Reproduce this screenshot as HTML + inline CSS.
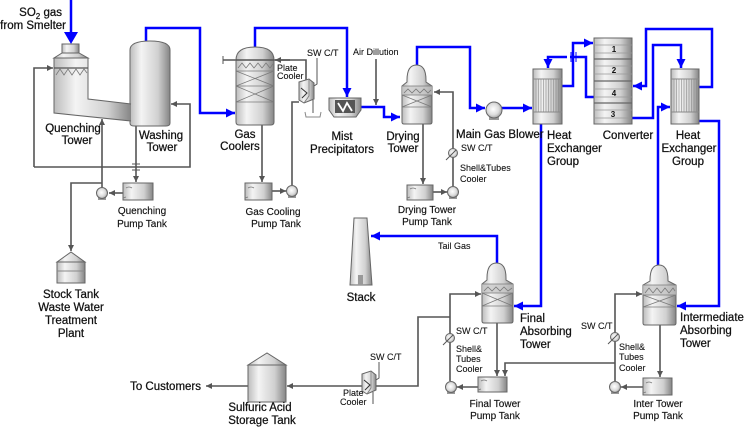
<!DOCTYPE html>
<html><head><meta charset="utf-8"><style>
html,body{margin:0;padding:0;background:#fff;}
svg{display:block;}
text{font-family:"Liberation Sans",Arial,sans-serif;fill:#111;}
.L{font-size:11.5px;stroke:#111;stroke-width:0.25;}
.S{font-size:10px;stroke:#111;stroke-width:0.15;}
.T{font-size:9px;stroke:#111;stroke-width:0.1;}
.D{font-size:8px;font-weight:bold;}
.g{fill:none;stroke:#555;stroke-width:1.6;}
.b{fill:none;stroke:#0000ff;stroke-width:2.5;}
.eq{stroke:#666;stroke-width:1;}
.in{fill:none;stroke:#7a7a7a;stroke-width:0.8;}
.tb{fill:none;stroke:#8a8a8a;stroke-width:0.6;}
</style></head><body>
<svg width="748" height="431" viewBox="0 0 748 431" xmlns="http://www.w3.org/2000/svg">
<defs>
<linearGradient id="m" x1="0" x2="1" y1="0" y2="0">
<stop offset="0" stop-color="#bcbcbc"/><stop offset="0.28" stop-color="#f4f4f4"/><stop offset="0.7" stop-color="#d0d0d0"/><stop offset="1" stop-color="#858585"/>
</linearGradient>
<radialGradient id="rp" cx="0.45" cy="0.45" r="0.6">
<stop offset="0" stop-color="#ffffff"/><stop offset="0.6" stop-color="#dcdcdc"/><stop offset="1" stop-color="#9a9a9a"/>
</radialGradient>
<marker id="ab" viewBox="0 0 10 10" refX="10" refY="5" markerWidth="9" markerHeight="9" markerUnits="userSpaceOnUse" orient="auto"><path d="M0,0 L10,5 L0,10 z" fill="#0000ff"/></marker>
<marker id="ag" viewBox="0 0 10 10" refX="10" refY="5" markerWidth="6" markerHeight="6" markerUnits="userSpaceOnUse" orient="auto"><path d="M0,0 L10,5 L0,10 z" fill="#555"/></marker>
</defs>

<!-- ============ GREY PROCESS LINES ============ -->
<g class="g">
<path d="M34,167 L34,68 L53,68" marker-end="url(#ag)"/>
<path d="M34,167 L190,167 L190,104 L171,104" marker-end="url(#ag)"/>
<path d="M136,124 L136,182" marker-end="url(#ag)"/>
<path d="M102,188 L102,119" marker-end="url(#ag)"/>
<path d="M102,183 L71,183 L71,251" marker-end="url(#ag)"/>
<path d="M123,193 L109,193" marker-end="url(#ag)"/>

<path d="M223,60 L306,60 L306,82"/>
<path d="M290,60 L275,60" marker-end="url(#ag)"/>
<path d="M262,125 L262,182" marker-end="url(#ag)"/>
<path d="M272,191 L286,191" marker-end="url(#ag)"/>
<path d="M292,185 L292,102 L299,102"/>

<path d="M376,59 L376,105" marker-end="url(#ag)"/>

<path d="M453,186 L453,92 L434,92" marker-end="url(#ag)"/>
<path d="M423,124 L423,184" marker-end="url(#ag)"/>
<path d="M433,192 L447,192" marker-end="url(#ag)"/>

<path d="M450,381 L450,294 L481,294" marker-end="url(#ag)"/>
<path d="M450,317 L418,317 L418,386 L287,386" marker-end="url(#ag)"/>
<path d="M497,323 L497,376" marker-end="url(#ag)"/>
<path d="M615,363 L505,363 L505,376" marker-end="url(#ag)"/>
<path d="M478,387 L457,387" marker-end="url(#ag)"/>

<path d="M615,381 L615,294 L642,294" marker-end="url(#ag)"/>
<path d="M660,325 L660,377" marker-end="url(#ag)"/>
<path d="M643,387 L621,387" marker-end="url(#ag)"/>

<path d="M248,386 L206,386" marker-end="url(#ag)"/>
</g>
<g stroke="#555" stroke-width="1" fill="none">
<line x1="223" y1="56" x2="223" y2="64"/>
<line x1="132" y1="164" x2="140" y2="164"/>
<line x1="132" y1="170" x2="140" y2="170"/>
<path d="M317,58 L317,84 L314,86"/>
<path d="M313,100 L313,113"/>
<path d="M305,112 L306,117 L320,117 L321,112" stroke="#888"/>
<path d="M379,362 L379,378 L376,380"/>
<line x1="373" y1="392" x2="373" y2="404"/>
<line x1="453" y1="153" x2="446" y2="160"/>
<line x1="450" y1="338" x2="443" y2="345"/>
<line x1="615" y1="337" x2="608" y2="344"/>
</g>

<!-- ============ BLUE GAS LINES ============ -->
<g class="b">
<path d="M71,0 L71,34"/>
<path d="M146,41 L146,28 L200,28 L200,113 L235,113" marker-end="url(#ab)"/>
<path d="M255,47 L255,28 L347,28 L347,97" marker-end="url(#ab)"/>
<path d="M361,107 L384,107 L384,117 L400,117" marker-end="url(#ab)"/>
<path d="M417,65 L417,47 L470,47 L470,108 L485,108" marker-end="url(#ab)"/>
<path d="M502,108 L532,108" marker-end="url(#ab)"/>
<path d="M594,97 L586,97 L586,57 L548,57 L548,68" marker-end="url(#ab)"/>
<path d="M562,86 L573,86 L573,43 L593,43" marker-end="url(#ab)"/>
<path d="M541,124 L541,306 L514,306" marker-end="url(#ab)"/>
<path d="M632,118 L653,118 L653,45 L681,45 L681,68" marker-end="url(#ab)"/>
<path d="M699,87 L712,87 L712,29 L646,29 L646,86 L633,86" marker-end="url(#ab)"/>
<path d="M658,265 L658,107 L670,107" marker-end="url(#ab)"/>
<path d="M699,121 L719,121 L719,306 L677,306" marker-end="url(#ab)"/>
<path d="M497,263 L497,236 L371,236" marker-end="url(#ab)"/>
</g>
<polygon points="64,32 78,32 71,44" fill="#0000ff"/>
<rect x="567" y="54" width="3" height="6" fill="#fff"/>
<g stroke="#0000ff" stroke-width="1"><line x1="571" y1="52" x2="571" y2="62"/><line x1="576" y1="52" x2="576" y2="62"/></g>

<!-- ============ QUENCH / WASHING ============ -->
<path d="M130,50 Q130,41 150,41 Q170,41 170,50 L170,123 Q170,126 166,126 L134,126 Q130,126 130,123 Z" fill="url(#m)" class="eq"/>
<rect x="62" y="44" width="17" height="9" fill="url(#m)" class="eq"/>
<path d="M62,53 L79,53 L88,58 L54,58 Z" fill="url(#m)" class="eq"/>
<path d="M54,58 L88,58 L88,99 L131,104 L131,121 L54,113 Z" fill="url(#m)"/>
<path d="M131,104 L88,99 L88,58 L54,58 L54,113 L131,121" fill="none" class="eq"/>
<line x1="54" y1="68" x2="88" y2="68" stroke="#555" stroke-width="1.2"/>
<polyline points="56,75 60,69 64,75 68,69 72,75 76,69 80,75 84,69 87,73" class="in"/>

<!-- ============ GAS COOLERS ============ -->
<path d="M236,60 Q236,47 255,47 Q274,47 274,60 L274,122 Q274,125 271,125 L239,125 Q236,125 236,122 Z" fill="url(#m)" class="eq"/>
<polyline points="238,68 242,63 246,68 250,63 254,68 258,63 262,68 266,63 270,68 273,64" class="in"/>
<g class="in">
<line x1="236" y1="71" x2="274" y2="71"/><line x1="236" y1="86" x2="274" y2="86"/><line x1="236" y1="102" x2="274" y2="102"/>
<line x1="236" y1="71" x2="274" y2="86"/><line x1="236" y1="86" x2="274" y2="71"/>
<line x1="236" y1="86" x2="274" y2="102"/><line x1="236" y1="102" x2="274" y2="86"/>
</g>
<line x1="236" y1="60" x2="274" y2="60" stroke="#555" stroke-width="1.4"/>

<!-- plate cooler top -->
<path d="M299,82 L309,79 L314,83 L314,99 L304,103 L299,100 Z" fill="url(#m)" class="eq"/>
<path d="M309,79 L309,96 L304,103" fill="none" stroke="#777" stroke-width="0.8"/>
<polyline points="301,88 307,93 302,98" fill="none" stroke="#333" stroke-width="1"/>

<!-- ============ MIST PRECIPITATOR ============ -->
<path d="M329,98 L361,98 L361,110 L356,117 L334,117 L329,110 Z" fill="url(#m)" class="eq"/>
<rect x="335" y="100" width="20" height="13" fill="#555"/>
<polyline points="338,103 343,111 347,103 352,111" fill="none" stroke="#fff" stroke-width="1.8"/>

<!-- ============ DRYING TOWER ============ -->
<path d="M407,80 Q407,65 416.5,65 Q426,65 426,80 L426,82 L432,86 L432,122 Q432,124 430,124 L404,124 Q402,124 402,122 L402,86 L407,82 Z" fill="url(#m)" class="eq"/>
<rect x="402" y="86" width="30" height="9" fill="#c4c4c4" opacity="0.7"/>
<polyline points="404,93 408,89 412,93 416,89 420,93 424,89 428,93 431,90" class="in"/>
<g class="in"><line x1="402" y1="95" x2="432" y2="95"/><line x1="402" y1="107" x2="432" y2="107"/><line x1="402" y1="95" x2="432" y2="107"/><line x1="402" y1="107" x2="432" y2="95"/><line x1="402" y1="86" x2="432" y2="86"/></g>

<!-- ============ MAIN GAS BLOWER ============ -->
<rect x="489" y="115" width="10" height="5" fill="#999"/>
<circle cx="494" cy="110" r="8" fill="url(#rp)" stroke="#666"/>

<!-- ============ HEAT EXCHANGER 1 ============ -->
<rect x="533" y="69" width="29" height="55" fill="url(#m)" class="eq"/>
<line x1="533" y1="79" x2="562" y2="79" stroke="#888"/><line x1="533" y1="112" x2="562" y2="112" stroke="#888"/>
<path class="tb" d="M536,79V112M538.5,79V112M541,79V112M543.5,79V112M546,79V112M548.5,79V112M551,79V112M553.5,79V112M556,79V112M558.5,79V112"/>

<!-- ============ CONVERTER ============ -->
<rect x="594" y="38" width="38" height="86" fill="url(#m)" class="eq"/>
<g stroke="#666" stroke-width="1.3"><line x1="594" y1="59" x2="632" y2="59"/><line x1="594" y1="81" x2="632" y2="81"/><line x1="594" y1="103" x2="632" y2="103"/></g>
<g stroke="#999" stroke-width="0.7">
<line x1="594" y1="45" x2="632" y2="45"/><line x1="594" y1="53" x2="632" y2="53"/>
<line x1="594" y1="66" x2="632" y2="66"/><line x1="594" y1="74" x2="632" y2="74"/>
<line x1="594" y1="89" x2="632" y2="89"/><line x1="594" y1="97" x2="632" y2="97"/>
<line x1="594" y1="110" x2="632" y2="110"/><line x1="594" y1="118" x2="632" y2="118"/>
</g>
<text class="D" x="614" y="52" text-anchor="middle">1</text>
<text class="D" x="614" y="73" text-anchor="middle">2</text>
<text class="D" x="614" y="96" text-anchor="middle">4</text>
<text class="D" x="613" y="117" text-anchor="middle">3</text>

<!-- ============ HEAT EXCHANGER 2 ============ -->
<rect x="671" y="69" width="28" height="55" fill="url(#m)" class="eq"/>
<line x1="671" y1="79" x2="699" y2="79" stroke="#888"/><line x1="671" y1="112" x2="699" y2="112" stroke="#888"/>
<path class="tb" d="M674,79V112M676.5,79V112M679,79V112M681.5,79V112M684,79V112M686.5,79V112M689,79V112M691.5,79V112M694,79V112M696.5,79V112"/>

<!-- ============ STACK ============ -->
<polygon points="354,218 367,218 372,285 350,285" fill="url(#m)" class="eq"/>
<rect x="358" y="275" width="5" height="10" fill="#999"/>

<!-- ============ FINAL ABSORBER ============ -->
<path d="M487,278 Q487,263 496.5,263 Q506,263 506,278 L506,280 L513,284 L513,321 Q513,323 511,323 L484,323 Q482,323 482,321 L482,284 L487,280 Z" fill="url(#m)" class="eq"/>
<rect x="482" y="284" width="31" height="9" fill="#c4c4c4" opacity="0.7"/>
<polyline points="484,291 488,287 492,291 496,287 500,291 504,287 508,291 512,288" class="in"/>
<g class="in"><line x1="482" y1="284" x2="513" y2="284"/><line x1="482" y1="293" x2="513" y2="293"/><line x1="482" y1="306" x2="513" y2="306"/><line x1="482" y1="293" x2="513" y2="306"/><line x1="482" y1="306" x2="513" y2="293"/></g>

<!-- ============ INTERMEDIATE ABSORBER ============ -->
<path d="M650,280 Q650,265 659,265 Q668,265 668,280 L668,281 L676,285 L676,323 Q676,325 674,325 L645,325 Q643,325 643,323 L643,285 L650,281 Z" fill="url(#m)" class="eq"/>
<rect x="643" y="285" width="33" height="10" fill="#c4c4c4" opacity="0.7"/>
<polyline points="645,293 649,288 653,293 657,288 661,293 665,288 669,293 673,288 675,291" class="in"/>
<g class="in"><line x1="643" y1="285" x2="676" y2="285"/><line x1="643" y1="295" x2="676" y2="295"/><line x1="643" y1="307" x2="676" y2="307"/><line x1="643" y1="295" x2="676" y2="307"/><line x1="643" y1="307" x2="676" y2="295"/></g>

<!-- ============ TANKS ============ -->
<polygon points="57,262 71,252 85,262" fill="url(#m)" class="eq"/>
<rect x="57" y="262" width="28" height="21" fill="url(#m)" class="eq"/>
<line x1="57" y1="271" x2="85" y2="271" stroke="#888"/>

<polygon points="248,365 267,353 286,365" fill="url(#m)" class="eq"/>
<rect x="248" y="365" width="38" height="37" fill="url(#m)" class="eq"/>

<!-- plate cooler bottom -->
<path d="M362,374 L371,371 L376,375 L376,390 L367,394 L362,391 Z" fill="url(#m)" class="eq"/>
<path d="M371,371 L371,388 L367,394" fill="none" stroke="#777" stroke-width="0.8"/>
<polyline points="364,380 370,385 365,390" fill="none" stroke="#333" stroke-width="1"/>

<!-- pump tanks -->
<g class="eq">
<rect x="123" y="183" width="30" height="17" fill="url(#m)"/>
<rect x="245" y="183" width="27" height="17" fill="url(#m)"/>
<rect x="407" y="185" width="26" height="15" fill="url(#m)"/>
<rect x="478" y="377" width="29" height="15" fill="url(#m)"/>
<rect x="643" y="378" width="29" height="17" fill="url(#m)"/>
</g>
<g class="in">
<path d="M126,188 q3,-2 6,0 M126,197 l-3,1"/>
<path d="M248,188 q3,-2 6,0 M248,197 l-3,1"/>
<path d="M410,189 q3,-2 6,0 M410,197 l-3,1"/>
<path d="M481,381 q3,-2 6,0 M481,389 l-3,1"/>
<path d="M646,383 q3,-2 6,0 M646,392 l-3,1"/>
</g>

<!-- pumps -->
<g>
<rect x="98" y="196" width="8" height="4" fill="#999"/><circle cx="102" cy="193" r="5.5" fill="url(#rp)" stroke="#666"/>
<rect x="288" y="194" width="8" height="4" fill="#999"/><circle cx="292" cy="191" r="5.5" fill="url(#rp)" stroke="#666"/>
<rect x="449" y="195" width="8" height="4" fill="#999"/><circle cx="453" cy="192" r="5.5" fill="url(#rp)" stroke="#666"/>
<rect x="447" y="390" width="8" height="4" fill="#999"/><circle cx="451" cy="387" r="5.5" fill="url(#rp)" stroke="#666"/>
<rect x="611" y="390" width="8" height="4" fill="#999"/><circle cx="615" cy="387" r="5.5" fill="url(#rp)" stroke="#666"/>
</g>
<!-- shell & tube coolers -->
<g>
<circle cx="453" cy="153" r="4.5" fill="url(#rp)" stroke="#666"/><line x1="450" y1="156" x2="456" y2="150" stroke="#555"/>
<circle cx="450" cy="338" r="4.5" fill="url(#rp)" stroke="#666"/><line x1="447" y1="341" x2="453" y2="335" stroke="#555"/>
<circle cx="615" cy="337" r="4.5" fill="url(#rp)" stroke="#666"/><line x1="612" y1="340" x2="618" y2="334" stroke="#555"/>
</g>

<!-- ============ TEXT ============ -->
<text class="L" x="62" y="16" text-anchor="end">SO<tspan font-size="8" dy="3">2</tspan><tspan dy="-3"> gas</tspan></text>
<text class="L" x="66" y="29" text-anchor="end">from Smelter</text>

<text class="L" x="73" y="132" text-anchor="middle">Quenching</text>
<text class="L" x="77" y="144" text-anchor="middle">Tower</text>
<text class="L" x="161" y="139" text-anchor="middle">Washing</text>
<text class="L" x="162" y="151" text-anchor="middle">Tower</text>

<text class="S" x="142" y="214" text-anchor="middle">Quenching</text>
<text class="S" x="142" y="227" text-anchor="middle">Pump Tank</text>

<text class="L" x="71" y="298" text-anchor="middle">Stock Tank</text>
<text class="L" x="71" y="311" text-anchor="middle">Waste Water</text>
<text class="L" x="71" y="324" text-anchor="middle">Treatment</text>
<text class="L" x="71" y="337" text-anchor="middle">Plant</text>

<text class="L" x="245" y="138" text-anchor="middle">Gas</text>
<text class="L" x="240" y="150" text-anchor="middle">Coolers</text>
<text class="T" x="307" y="56">SW C/T</text>
<text class="T" x="277" y="71">Plate</text>
<text class="T" x="277" y="79">Cooler</text>
<text class="S" x="273" y="215" text-anchor="middle">Gas Cooling</text>
<text class="S" x="276" y="227" text-anchor="middle">Pump Tank</text>

<text class="T" x="353" y="55">Air Dillution</text>
<text class="L" x="342" y="140" text-anchor="middle">Mist</text>
<text class="L" x="342" y="153" text-anchor="middle">Precipitators</text>

<text class="L" x="403" y="140" text-anchor="middle">Drying</text>
<text class="L" x="403" y="152" text-anchor="middle">Tower</text>
<text class="L" x="456" y="138">Main Gas Blower</text>
<text class="T" x="461" y="151">SW C/T</text>
<text class="T" x="460" y="171">Shell&amp;Tubes</text>
<text class="T" x="460" y="182">Cooler</text>
<text class="S" x="427" y="213" text-anchor="middle">Drying Tower</text>
<text class="S" x="427" y="225" text-anchor="middle">Pump Tank</text>

<text class="L" x="547" y="139">Heat</text>
<text class="L" x="547" y="152">Exchanger</text>
<text class="L" x="547" y="165">Group</text>
<text class="L" x="628" y="139" text-anchor="middle">Converter</text>
<text class="L" x="688" y="139" text-anchor="middle">Heat</text>
<text class="L" x="689" y="152" text-anchor="middle">Exchanger</text>
<text class="L" x="688" y="165" text-anchor="middle">Group</text>

<text class="T" x="438" y="249">Tail Gas</text>
<text class="L" x="361" y="301" text-anchor="middle">Stack</text>

<text class="T" x="456" y="334">SW C/T</text>
<text class="T" x="456" y="352">Shell&amp;</text>
<text class="T" x="456" y="362">Tubes</text>
<text class="T" x="456" y="372">Cooler</text>
<text class="L" x="520" y="322">Final</text>
<text class="L" x="520" y="335">Absorbing</text>
<text class="L" x="520" y="348">Tower</text>
<text class="S" x="495" y="407" text-anchor="middle">Final Tower</text>
<text class="S" x="495" y="419" text-anchor="middle">Pump Tank</text>

<text class="T" x="581" y="329">SW C/T</text>
<text class="T" x="619" y="350">Shell&amp;</text>
<text class="T" x="619" y="360">Tubes</text>
<text class="T" x="619" y="371">Cooler</text>
<text class="L" x="680" y="321">Intermediate</text>
<text class="L" x="680" y="334">Absorbing</text>
<text class="L" x="680" y="347">Tower</text>
<text class="S" x="658" y="407" text-anchor="middle">Inter Tower</text>
<text class="S" x="658" y="419" text-anchor="middle">Pump Tank</text>

<text class="L" x="201" y="390" text-anchor="end">To Customers</text>
<text class="L" x="260" y="411" text-anchor="middle">Sulfuric Acid</text>
<text class="L" x="262" y="424" text-anchor="middle">Storage Tank</text>
<text class="T" x="370" y="360">SW C/T</text>
<text class="T" x="343" y="396">Plate</text>
<text class="T" x="340" y="405">Cooler</text>
</svg>
</body></html>
